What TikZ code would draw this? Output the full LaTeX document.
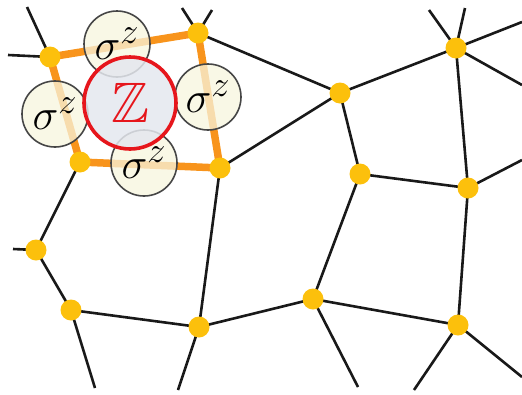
\documentclass[tikz,border=0pt]{standalone}
\usepackage{graphicx}
\usepackage{amssymb}
\pgfdeclarelayer{edges}
\pgfsetlayers{edges,main}
\definecolor{dotgold}{RGB}{252,192,12}
\definecolor{plaqorange}{RGB}{248,148,28}
\definecolor{cream}{RGB}{247,245,222}
\definecolor{ringgray}{RGB}{70,70,70}
\definecolor{zfill}{RGB}{228,231,238}
\definecolor{zred}{RGB}{230,22,28}
\newcommand{\spinop}{\scalebox{1.75}{$\sigma^z$}}
\tikzset{
  site/.style={circle,fill=dotgold,inner sep=0pt,minimum size=21pt},
  bond/.style={line width=2.6pt,black!90},
  plaq/.style={line width=7.5pt,plaqorange},
  spin/.style={circle,draw=ringgray,line width=1.6pt,fill=cream,fill opacity=0.75,
    text opacity=1,minimum size=66pt,inner sep=0pt,font=\Huge},
  zop/.style={circle,draw=zred,line width=3.6pt,fill=zfill,fill opacity=0.85,
    text opacity=1,text=zred,minimum size=92pt,inner sep=0pt,
    font=\fontsize{57}{60}\selectfont}
}
\begin{document}
\begin{tikzpicture}[x=1pt,y=-1pt]
\useasboundingbox (0,0) rectangle (522,394);
% lattice sites
\node[site] (A) at (50,57) {};
\node[site] (B) at (198,33) {};
\node[site] (C) at (80,162) {};
\node[site] (D) at (220,168) {};
\node[site] (E) at (340,93) {};
\node[site] (F) at (456,48) {};
\node[site] (G) at (360,174) {};
\node[site] (H) at (468,188) {};
\node[site] (I) at (36,250) {};
\node[site] (J) at (71,310) {};
\node[site] (K) at (199,327) {};
\node[site] (L) at (313,299) {};
\node[site] (M) at (458,325) {};
% loose ends of the lattice
\coordinate (a1) at (8,55);
\coordinate (a2) at (27,7);
\coordinate (b1) at (182,8);
\coordinate (b2) at (212,10);
\coordinate (i1) at (13,249);
\coordinate (j1) at (95,388);
\coordinate (k1) at (178,390);
\coordinate (l1) at (358,387);
\coordinate (m1) at (414,390);
\coordinate (m2) at (522,377);
\coordinate (h1) at (522,160);
\coordinate (f1) at (429,10);
\coordinate (f2) at (465,8);
\coordinate (f3) at (522,22);
\coordinate (f4) at (522,85);
\begin{pgfonlayer}{edges}
  \draw[bond] (A.center) -- (a1) (A.center) -- (a2)
    (B.center) -- (b1) (B.center) -- (b2)
    (B.center) -- (E.center) (D.center) -- (E.center)
    (D.center) -- (K.center) (C.center) -- (I.center)
    (I.center) -- (i1) (I.center) -- (J.center)
    (J.center) -- (j1) (J.center) -- (K.center)
    (K.center) -- (k1) (K.center) -- (L.center)
    (L.center) -- (G.center) (L.center) -- (l1)
    (L.center) -- (M.center) (M.center) -- (H.center)
    (M.center) -- (m1) (M.center) -- (m2)
    (G.center) -- (H.center) (G.center) -- (E.center)
    (H.center) -- (h1) (E.center) -- (F.center)
    (F.center) -- (f1) (F.center) -- (f2)
    (F.center) -- (f3) (F.center) -- (f4)
    (F.center) -- (H.center);
  \draw[plaq,line join=round] (A.center) -- (B.center) -- (D.center)
    -- (C.center) -- cycle;
\end{pgfonlayer}
% spin operators on the plaquette bonds
\node[spin] (s1) at (117,44) {\spinop};
\node[spin] (s2) at (208,97) {\spinop};
\node[spin] (s3) at (144,163) {\spinop};
\node[spin] (s4) at (55,114) {\spinop};
% plaquette operator
\node[zop] (Z) at (130,103) {$\mathbb{Z}$};
\end{tikzpicture}
\end{document}
